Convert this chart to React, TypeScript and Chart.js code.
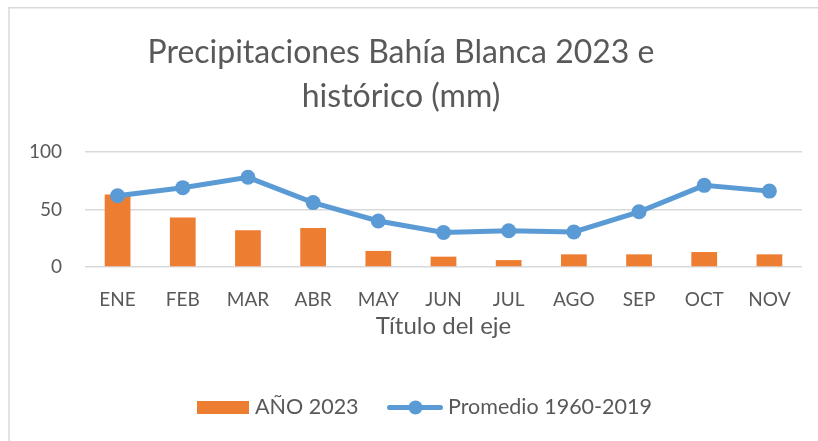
import React, { useEffect, useRef } from "react";
import { Chart, registerables } from "chart.js";

Chart.register(...registerables);

const categories = ["ENE", "FEB", "MAR", "ABR", "MAY", "JUN", "JUL", "AGO", "SEP", "OCT", "NOV"];
const year2023 = [63, 43, 32, 34, 14, 9, 6, 11, 11, 13, 11];
const promedio = [62, 69, 78, 56, 40, 30, 31.5, 30.5, 48, 71, 66];
const yTicks = [0, 50, 100];
const titleLines = ["Precipitaciones Bahía Blanca 2023 e", "histórico (mm)"];
const xAxisTitle = "Título del eje";
const seriesNames = ["AÑO 2023", "Promedio 1960-2019"];

const FONT = "Lato";
const TEXT = "#595959";
const GRID = "#d9d9d9";
const ORANGE = "#ed7d31";
const BLUE = "#5b9bd5";

const framePlugin = {
  id: "frame",
  beforeDraw(chart: any) {
    const ctx = chart.ctx;
    ctx.save();
    ctx.fillStyle = "#ffffff";
    ctx.fillRect(0, 0, chart.width, chart.height);
    ctx.strokeStyle = GRID;
    ctx.lineWidth = 1.5;
    ctx.beginPath();
    ctx.moveTo(9, chart.height);
    ctx.lineTo(9, 7.75);
    ctx.lineTo(chart.width, 7.75);
    ctx.stroke();
    ctx.restore();
  },
};

const legendPlugin = {
  id: "customLegend",
  afterDraw(chart: any) {
    const ctx = chart.ctx;
    const ds = chart.data.datasets;
    ctx.save();
    ctx.font = `21.5px ${FONT}`;
    ctx.textBaseline = "middle";
    const cy = 407.5;
    const barDs = ds[0];
    const lineDs = ds[1];
    // bar item
    ctx.fillStyle = barDs.backgroundColor;
    ctx.fillRect(197, cy - 6.5, 52, 13);
    ctx.fillStyle = TEXT;
    ctx.fillText(barDs.label, 255, cy);
    // line item
    ctx.strokeStyle = lineDs.borderColor;
    ctx.lineWidth = 5;
    ctx.lineCap = "round";
    ctx.beginPath();
    ctx.moveTo(389.5, cy);
    ctx.lineTo(440.5, cy);
    ctx.stroke();
    ctx.fillStyle = lineDs.pointBackgroundColor;
    ctx.beginPath();
    ctx.arc(415.5, cy, 7, 0, Math.PI * 2);
    ctx.fill();
    ctx.fillStyle = TEXT;
    ctx.fillText(lineDs.label, 448, cy);
    ctx.restore();
  },
};

export default function App() {
  const ref = useRef<HTMLCanvasElement | null>(null);
  useEffect(() => {
    if (!ref.current) return;
    const chart = new Chart(ref.current, {
      type: "bar",
      data: {
        labels: categories,
        datasets: [
          {
            type: "bar",
            label: seriesNames[0],
            data: year2023,
            backgroundColor: ORANGE,
            borderWidth: 0,
            categoryPercentage: 1,
            barPercentage: 0.395,
            order: 2,
          } as any,
          {
            type: "line",
            label: seriesNames[1],
            data: promedio,
            borderColor: BLUE,
            backgroundColor: BLUE,
            pointBackgroundColor: BLUE,
            borderWidth: 5,
            pointRadius: 7.5,
            pointBorderWidth: 0,
            pointHoverRadius: 7.5,
            tension: 0,
            order: 1,
          } as any,
        ],
      },
      options: {
        animation: false,
        responsive: false,
        maintainAspectRatio: false,
        layout: { padding: { left: 0, right: 16, top: 0, bottom: 84 } },
        plugins: {
          legend: { display: false },
          tooltip: { enabled: false },
          title: {
            display: true,
            text: titleLines,
            color: TEXT,
            font: { family: FONT, size: 32, weight: "normal", lineHeight: 1.366 },
            padding: { top: 31, bottom: 33.6 },
          },
        },
        scales: {
          x: {
            grid: { display: false, drawTicks: false },
            border: { display: false },
            ticks: { color: TEXT, font: { family: FONT, size: 19 }, padding: 21 },
            title: {
              display: true,
              text: xAxisTitle,
              color: TEXT,
              font: { family: FONT, size: 24 },
              padding: { top: 0, bottom: 16.6 },
            },
            afterFit(scale: any) {
              scale.height = 90;
            },
          },
          y: {
            min: 0,
            max: 100,
            afterBuildTicks(scale: any) {
              scale.ticks = yTicks.map((v) => ({ value: v }));
            },
            grid: { color: GRID, lineWidth: 1.5, drawTicks: false },
            border: { display: false },
            ticks: { color: TEXT, font: { family: FONT, size: 19 }, padding: 23 },
            afterFit(scale: any) {
              scale.width = 85;
            },
          },
        },
      },
      plugins: [framePlugin, legendPlugin],
    });
    return () => chart.destroy();
  }, []);
  return (
    <div style={{ position: "absolute", left: 0, top: 0, width: 818, height: 441 }}>
      <canvas ref={ref} width={818} height={441} style={{ width: 818, height: 441, display: "block" }} />
    </div>
  );
}
